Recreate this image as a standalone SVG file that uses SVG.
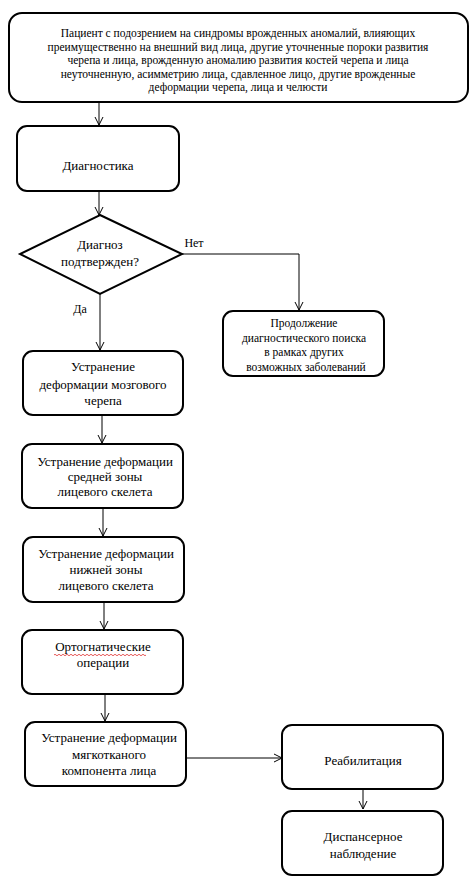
<svg xmlns="http://www.w3.org/2000/svg" width="476" height="880" viewBox="0 0 476 880" xml:space="preserve">
<style>
.box{fill:#fff;stroke:#000;stroke-width:2}
text{fill:#000;text-anchor:middle}
.c{fill:none;stroke:#000;stroke-width:1}
</style>
<g id="connectors">
<path class="c" d="M99,102 V125 M95,117 L99,125 L103,117"/>
<path class="c" d="M99,191 V215 M95,207 L99,215 L103,207"/>
<path class="c" d="M182,254 H299 V310 M295,302 L299,310 L303,302"/>
<path class="c" d="M100,294 V350 M96,342 L100,350 L104,342"/>
<path class="c" d="M102,415 V443 M98,435 L102,443 L106,435"/>
<path class="c" d="M103,508 V536 M99,528 L103,536 L107,528"/>
<path class="c" d="M104,602 V629 M100,621 L104,629 L108,621"/>
<path class="c" d="M105,694 V721 M101,713 L105,721 L109,713"/>
<path class="c" d="M186,758 H282 M274,754 L282,758 L274,762"/>
<path class="c" d="M363,789 V809 M359,801 L363,809 L367,801"/>
<text x="194" y="247" style="font-family:'Liberation Serif','DejaVu Serif',serif;font-size:12px">Нет</text>
<text x="80" y="313" style="font-family:'Liberation Serif','DejaVu Serif',serif;font-size:12px">Да</text>
</g>
<g id="n1">
<rect class="box" x="9" y="13" width="459" height="89" rx="13"/>
<text x="238" y="37" style="font-family:'Liberation Serif','DejaVu Serif',serif;font-size:11.5px">Пациент  с подозрением  на синдромы врожденных  аномалий,  влияющих</text>
<text x="238" y="50.5" style="font-family:'Liberation Serif','DejaVu Serif',serif;font-size:11.5px">преимущественно  на внешний  вид лица,  другие уточненные пороки развития</text>
<text x="238" y="64" style="font-family:'Liberation Serif','DejaVu Serif',serif;font-size:11.5px">черепа и лица, врожденную аномалию развития костей черепа и лица</text>
<text x="238" y="77.5" style="font-family:'Liberation Serif','DejaVu Serif',serif;font-size:11.5px">неуточненную,  асимметрию лица, сдавленное лицо, другие врожденные</text>
<text x="238" y="91" style="font-family:'Liberation Serif','DejaVu Serif',serif;font-size:11.5px">деформации черепа, лица и челюсти</text>
</g>
<g id="n2">
<rect class="box" x="17" y="126" width="162" height="65" rx="10"/>
<text x="98" y="170" style="font-family:'Liberation Serif','DejaVu Serif',serif;font-size:13px">Диагностика</text>
</g>
<g id="n3">
<polygon class="box" points="100,215 182,254 100,294 20,254"/>
<text x="100" y="249" style="font-family:'Liberation Serif','DejaVu Serif',serif;font-size:13px">Диагноз</text>
<text x="100" y="266" style="font-family:'Liberation Serif','DejaVu Serif',serif;font-size:13px">подтвержден?</text>
</g>
<g id="n4">
<rect class="box" x="223" y="311" width="161" height="65" rx="10"/>
<text x="304" y="327" style="font-family:'Liberation Serif','DejaVu Serif',serif;font-size:11.5px">Продолжение</text>
<text x="304" y="342" style="font-family:'Liberation Serif','DejaVu Serif',serif;font-size:11.5px">диагностического  поиска</text>
<text x="304" y="356" style="font-family:'Liberation Serif','DejaVu Serif',serif;font-size:11.5px">в рамках других</text>
<text x="306" y="371" style="font-family:'Liberation Serif','DejaVu Serif',serif;font-size:11.5px">возможных заболеваний</text>
</g>
<g id="n5">
<rect class="box" x="23" y="351" width="160" height="64" rx="10"/>
<text x="103" y="371" style="font-family:'Liberation Serif','DejaVu Serif',serif;font-size:13px">Устранение</text>
<text x="103" y="389" style="font-family:'Liberation Serif','DejaVu Serif',serif;font-size:13px">деформации  мозгового</text>
<text x="103" y="405" style="font-family:'Liberation Serif','DejaVu Serif',serif;font-size:13px">черепа</text>
</g>
<g id="n6">
<rect class="box" x="22" y="444" width="161" height="64" rx="10"/>
<text x="105" y="466" style="font-family:'Liberation Serif','DejaVu Serif',serif;font-size:13px">Устранение  деформации</text>
<text x="105" y="481" style="font-family:'Liberation Serif','DejaVu Serif',serif;font-size:13px">средней  зоны</text>
<text x="105" y="496" style="font-family:'Liberation Serif','DejaVu Serif',serif;font-size:13px">лицевого  скелета</text>
</g>
<g id="n7">
<rect class="box" x="23" y="537" width="161" height="65" rx="10"/>
<text x="106" y="558" style="font-family:'Liberation Serif','DejaVu Serif',serif;font-size:13px">Устранение  деформации</text>
<text x="106" y="574" style="font-family:'Liberation Serif','DejaVu Serif',serif;font-size:13px">нижней  зоны</text>
<text x="106" y="590" style="font-family:'Liberation Serif','DejaVu Serif',serif;font-size:13px">лицевого  скелета</text>
</g>
<g id="n8">
<rect class="box" x="22" y="630" width="161" height="64" rx="10"/>
<text x="103" y="651" style="font-family:'Liberation Serif','DejaVu Serif',serif;font-size:13px">Ортогнатические</text>
<path d="M54,655 q1,-1.5 2,0 t2,0 t2,0 t2,0 t2,0 t2,0 t2,0 t2,0 t2,0 t2,0 t2,0 t2,0 t2,0 t2,0 t2,0 t2,0 t2,0 t2,0 t2,0 t2,0 t2,0 t2,0 t2,0 t2,0 t2,0 t2,0 t2,0 t2,0 t2,0 t2,0 t2,0 t2,0 t2,0 t2,0 t2,0 t2,0 t2,0 t2,0 t2,0 t2,0 t2,0 t2,0 t2,0 t2,0 t2,0 t2,0" fill="none" stroke="#e03030" stroke-width="0.8"/>
<text x="103" y="667" style="font-family:'Liberation Serif','DejaVu Serif',serif;font-size:13px">операции</text>
</g>
<g id="n9">
<rect class="box" x="25" y="722" width="161" height="64" rx="10"/>
<text x="109" y="742" style="font-family:'Liberation Serif','DejaVu Serif',serif;font-size:13px">Устранение  деформации</text>
<text x="109" y="759" style="font-family:'Liberation Serif','DejaVu Serif',serif;font-size:13px">мягкотканого</text>
<text x="109" y="775" style="font-family:'Liberation Serif','DejaVu Serif',serif;font-size:13px">компонента  лица</text>
</g>
<g id="n10">
<rect class="box" x="282" y="725" width="161" height="64" rx="10"/>
<text x="363" y="765" style="font-family:'Liberation Serif','DejaVu Serif',serif;font-size:13px">Реабилитация</text>
</g>
<g id="n11">
<rect class="box" x="282" y="811" width="161" height="64" rx="10"/>
<text x="363" y="841" style="font-family:'Liberation Serif','DejaVu Serif',serif;font-size:13px">Диспансерное</text>
<text x="363" y="858" style="font-family:'Liberation Serif','DejaVu Serif',serif;font-size:13px">наблюдение</text>
</g>
</svg>
